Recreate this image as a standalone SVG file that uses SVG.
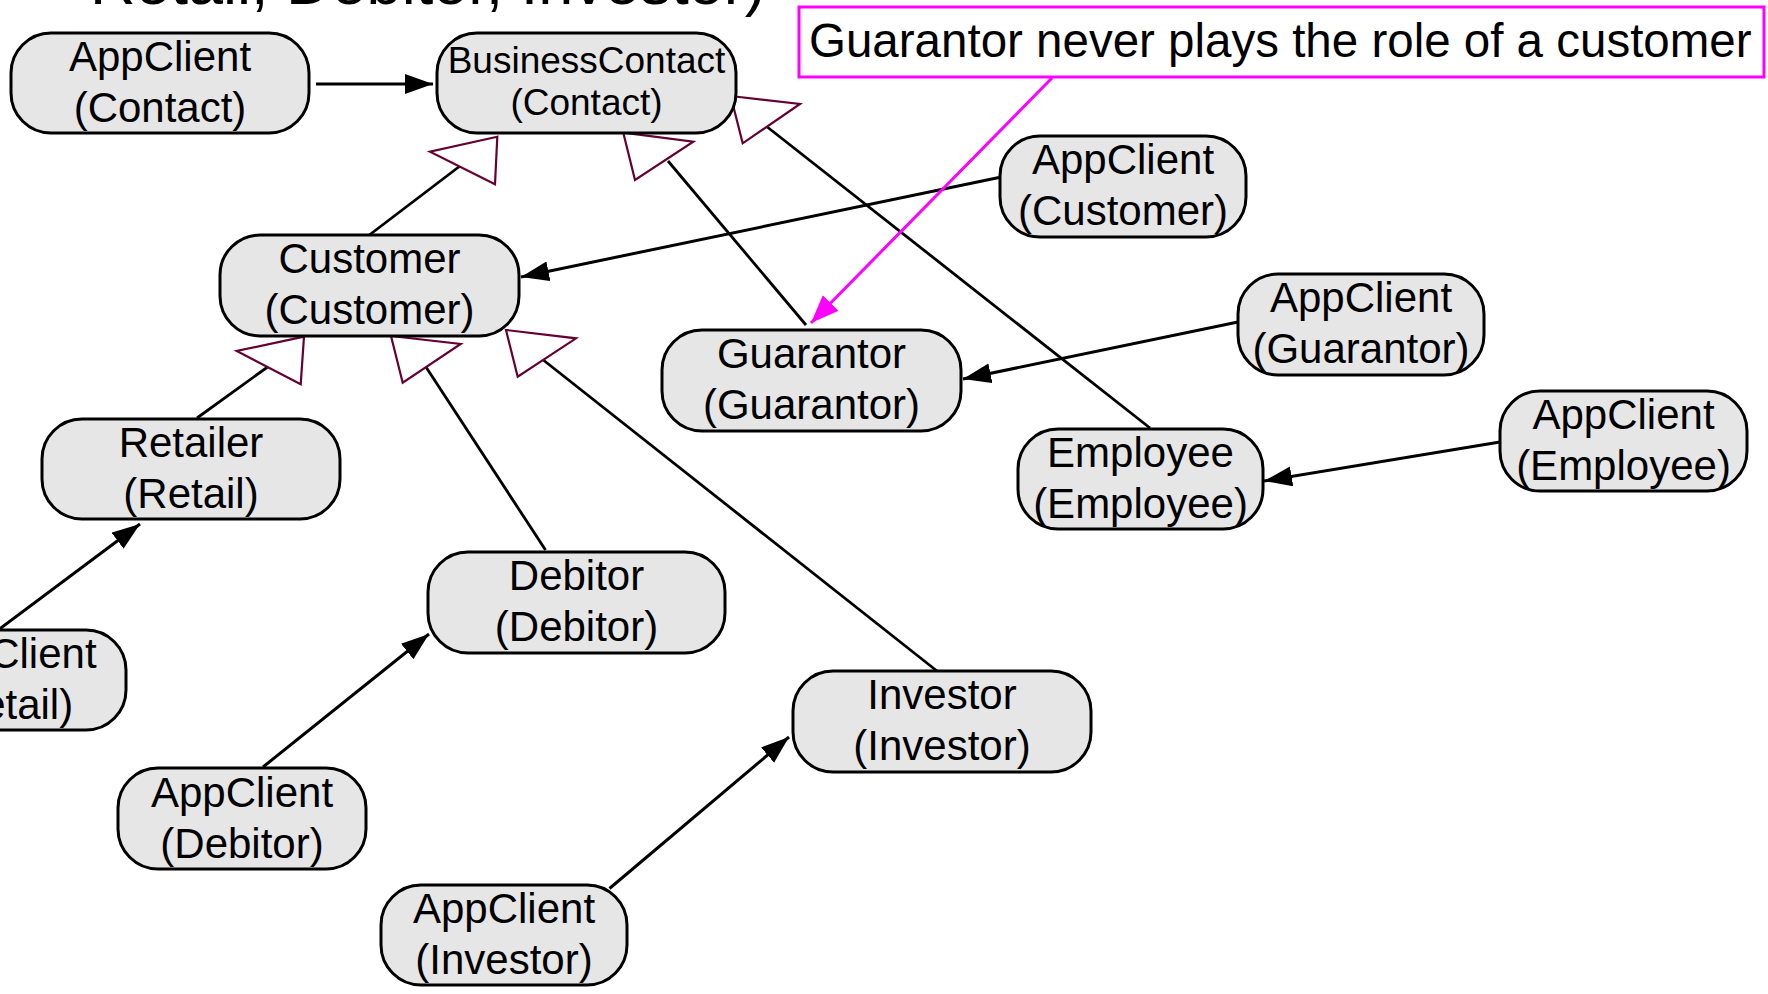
<svg xmlns="http://www.w3.org/2000/svg" width="1768" height="994" viewBox="0 0 1768 994">
<style>
.node rect{fill:#e6e6e6;stroke:#000;stroke-width:3}
.node text{font-family:"Liberation Sans",Arial,sans-serif;font-size:42px;fill:#000;text-anchor:middle}
.small text{font-size:37px}
.arr{stroke:#000;stroke-width:3;fill:none;marker-end:url(#ah)}
.inh{stroke:#000;stroke-width:2.8;fill:none}
.tri{fill:#fff;stroke:#660033;stroke-width:2.2;stroke-linejoin:miter}
.note{fill:none;stroke:#ff00ff;stroke-width:3}
.notetext{font-family:"Liberation Sans",Arial,sans-serif;font-size:47.5px;fill:#000}
</style>
<defs>
<marker id="ah" markerUnits="userSpaceOnUse" markerWidth="30" markerHeight="22" refX="28" refY="10" orient="auto">
<path d="M0,0 L28,10 L0,20 z" fill="#000"/>
</marker>
<marker id="ahp" markerUnits="userSpaceOnUse" markerWidth="30" markerHeight="24" refX="28" refY="11" orient="auto">
<path d="M0,0 L28,11 L0,22 z" fill="#ff00ff"/>
</marker>
</defs>
<rect width="1768" height="994" fill="#fff"/>

<text x="90" y="4" style="font-family:'Liberation Sans',Arial,sans-serif;font-size:63px;fill:#000">Retail, Debitor, Investor)</text>

<g id="connectors">
<line class="arr" x1="316" y1="84" x2="433" y2="84"/>
<line class="arr" x1="999" y1="177.5" x2="521" y2="277"/>
<line class="arr" x1="1238" y1="322" x2="963" y2="379"/>
<line class="arr" x1="1500" y1="442" x2="1264" y2="481"/>
<line class="arr" x1="-2" y1="630" x2="140" y2="524"/>
<line class="arr" x1="263" y1="767" x2="429" y2="634"/>
<line class="arr" x1="609.5" y1="888.5" x2="789" y2="737"/>
<line class="inh" x1="368" y1="236" x2="460" y2="166"/>
<line class="inh" x1="806" y1="325" x2="668" y2="161"/>
<line class="inh" x1="1150" y1="428" x2="766" y2="126"/>
<line class="inh" x1="197" y1="418" x2="269" y2="366"/>
<line class="inh" x1="545.5" y1="550" x2="424" y2="364"/>
<line class="inh" x1="937" y1="671" x2="542" y2="359"/>
<polygon class="tri" points="497.3,136.7 430,151.7 495,184.3"/>
<polygon class="tri" points="623.3,132.7 693.3,141.7 635,180"/>
<polygon class="tri" points="730.7,96 800,104 742.7,143.3"/>
<polygon class="tri" points="304,336.7 236.7,351 300.7,384.3"/>
<polygon class="tri" points="391,336 460.7,344 402.7,382.7"/>
<polygon class="tri" points="506,330 576,338.3 517.7,376.7"/>
<line stroke="#ff00ff" stroke-width="3" x1="1052" y1="78" x2="811" y2="323" marker-end="url(#ahp)"/>
</g>

<g id="note">
<rect class="note" x="799" y="7" width="965" height="70"/>
<text class="notetext" x="809" y="57">Guarantor never plays the role of a customer</text>
</g>

<g id="appclient-contact" class="node"><rect x="11" y="33" width="298" height="100" rx="40"/><text x="160" y="71">AppClient</text><text x="160" y="122">(Contact)</text></g>
<g id="businesscontact" class="node small"><rect x="437" y="33" width="299" height="100" rx="40"/><text x="586.5" y="73">BusinessContact</text><text x="586.5" y="115">(Contact)</text></g>
<g id="customer" class="node"><rect x="220" y="235" width="299" height="101" rx="40"/><text x="369.5" y="273">Customer</text><text x="369.5" y="324">(Customer)</text></g>
<g id="appclient-customer" class="node"><rect x="1000" y="136" width="246" height="101" rx="40"/><text x="1123" y="174">AppClient</text><text x="1123" y="225">(Customer)</text></g>
<g id="guarantor" class="node"><rect x="662" y="330" width="299" height="101" rx="40"/><text x="811.5" y="368">Guarantor</text><text x="811.5" y="419">(Guarantor)</text></g>
<g id="appclient-guarantor" class="node"><rect x="1238" y="274" width="246" height="101" rx="40"/><text x="1361" y="312">AppClient</text><text x="1361" y="363">(Guarantor)</text></g>
<g id="employee" class="node"><rect x="1018" y="429" width="245" height="100" rx="40"/><text x="1140.5" y="467">Employee</text><text x="1140.5" y="518">(Employee)</text></g>
<g id="appclient-employee" class="node"><rect x="1500" y="391" width="247" height="100" rx="40"/><text x="1623.5" y="429">AppClient</text><text x="1623.5" y="480">(Employee)</text></g>
<g id="retailer" class="node"><rect x="42" y="419" width="298" height="100" rx="40"/><text x="191" y="457">Retailer</text><text x="191" y="508">(Retail)</text></g>
<g id="appclient-retail" class="node"><rect x="-115" y="630" width="241" height="100" rx="40"/><text x="5.5" y="668">AppClient</text><text x="5.5" y="719">(Retail)</text></g>
<g id="debitor" class="node"><rect x="428" y="552" width="297" height="101" rx="40"/><text x="576.5" y="590">Debitor</text><text x="576.5" y="641">(Debitor)</text></g>
<g id="appclient-debitor" class="node"><rect x="118" y="768" width="248" height="101" rx="40"/><text x="242" y="807">AppClient</text><text x="242" y="858">(Debitor)</text></g>
<g id="investor" class="node"><rect x="793" y="671" width="298" height="101" rx="40"/><text x="942" y="709">Investor</text><text x="942" y="760">(Investor)</text></g>
<g id="appclient-investor" class="node"><rect x="381" y="885" width="246" height="100" rx="40"/><text x="504" y="923">AppClient</text><text x="504" y="974">(Investor)</text></g>
</svg>
